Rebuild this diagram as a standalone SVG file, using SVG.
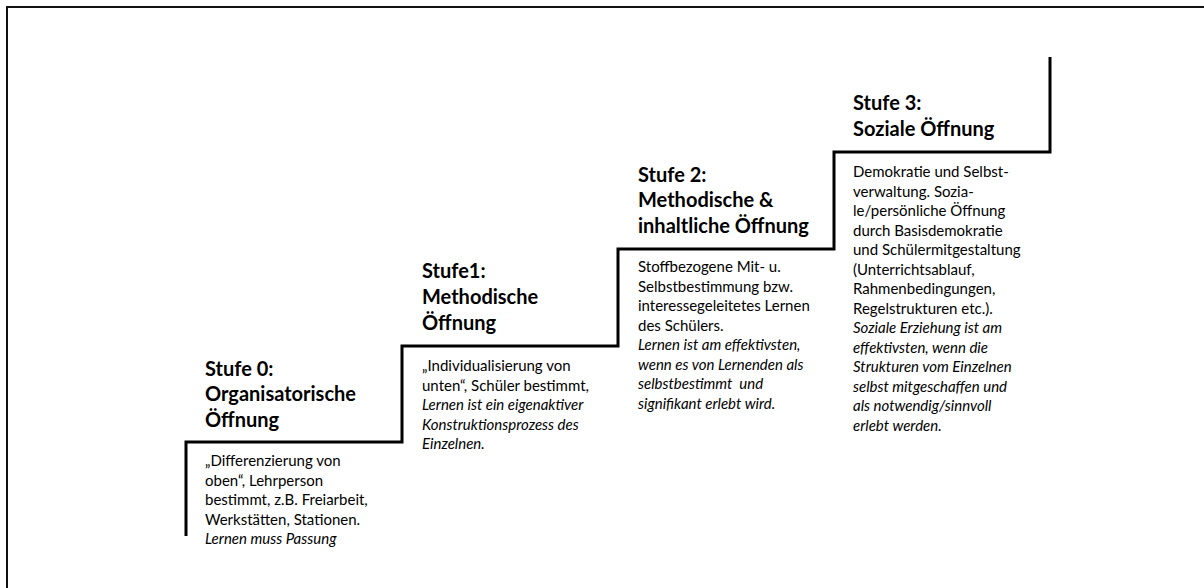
<svg xmlns="http://www.w3.org/2000/svg" width="1204" height="588" viewBox="0 0 1204 588">
  <style>
    .frame { fill: none; stroke: #111; stroke-width: 2; }
    .stairs { fill: none; stroke: #000; stroke-width: 3; stroke-linejoin: miter; stroke-linecap: butt; }
    .title { font-family: Lato, "Liberation Sans", sans-serif; font-weight: bold; font-size: 20px; fill: #000; }
    .body { font-family: Lato, "Liberation Sans", sans-serif; font-size: 15px; fill: #000; }
    .em { font-style: italic; }
  </style>
  <rect width="1204" height="588" fill="#fff"/>
  <!-- outer frame: top and left edges -->
  <path class="frame" d="M7,588 V7 H1204"/>

  <!-- staircase line linking the four levels -->
  <g id="connectors">
    <path class="stairs" d="M186,536 V442 H402 V346 H618 V249 H834 V152 H1050 V57"/>
  </g>

  <g id="stufe0">
    <text class="title"><tspan x="205" y="376">Stufe 0:</tspan><tspan x="205" y="401">Organisatorische</tspan><tspan x="205" y="427">Öffnung</tspan></text>
    <text class="body">
      <tspan x="205" y="466">„Differenzierung von</tspan>
      <tspan x="205" y="485.5">oben“, Lehrperson</tspan>
      <tspan x="205" y="505">bestimmt, z.B. Freiarbeit,</tspan>
      <tspan x="205" y="524.5">Werkstätten, Stationen.</tspan>
      <tspan x="205" y="544" class="em">Lernen muss Passung</tspan>
    </text>
  </g>

  <g id="stufe1">
    <text class="title"><tspan x="422" y="278">Stufe1:</tspan><tspan x="422" y="304">Methodische</tspan><tspan x="422" y="330">Öffnung</tspan></text>
    <text class="body">
      <tspan x="422" y="371">„Individualisierung von</tspan>
      <tspan x="422" y="390.5">unten“, Schüler bestimmt,</tspan>
      <tspan x="422" y="410" class="em">Lernen ist ein eigenaktiver</tspan>
      <tspan x="422" y="429.5" class="em">Konstruktionsprozess des</tspan>
      <tspan x="422" y="449" class="em">Einzelnen.</tspan>
    </text>
  </g>

  <g id="stufe2">
    <text class="title"><tspan x="638" y="182">Stufe 2:</tspan><tspan x="638" y="207">Methodische &amp;</tspan><tspan x="638" y="233">inhaltliche Öffnung</tspan></text>
    <text class="body">
      <tspan x="638" y="272">Stoffbezogene Mit- u.</tspan>
      <tspan x="638" y="291.5">Selbstbestimmung bzw.</tspan>
      <tspan x="638" y="311">interessegeleitetes Lernen</tspan>
      <tspan x="638" y="330.5">des Schülers.</tspan>
      <tspan x="638" y="350" class="em">Lernen ist am effektivsten,</tspan>
      <tspan x="638" y="369.5" class="em">wenn es von Lernenden als</tspan>
      <tspan x="638" y="389" class="em" xml:space="preserve">selbstbestimmt  und</tspan>
      <tspan x="638" y="408.5" class="em">signifikant erlebt wird.</tspan>
    </text>
  </g>

  <g id="stufe3">
    <text class="title"><tspan x="853" y="110">Stufe 3:</tspan><tspan x="853" y="136">Soziale Öffnung</tspan></text>
    <text class="body">
      <tspan x="853" y="177">Demokratie und Selbst-</tspan>
      <tspan x="853" y="196.5">verwaltung. Sozia-</tspan>
      <tspan x="853" y="216">le/persönliche Öffnung</tspan>
      <tspan x="853" y="235.5">durch Basisdemokratie</tspan>
      <tspan x="853" y="255">und Schülermitgestaltung</tspan>
      <tspan x="853" y="274.5">(Unterrichtsablauf,</tspan>
      <tspan x="853" y="294">Rahmenbedingungen,</tspan>
      <tspan x="853" y="313.5">Regelstrukturen etc.).</tspan>
      <tspan x="853" y="333" class="em">Soziale Erziehung ist am</tspan>
      <tspan x="853" y="352.5" class="em">effektivsten, wenn die</tspan>
      <tspan x="853" y="372" class="em">Strukturen vom Einzelnen</tspan>
      <tspan x="853" y="391.5" class="em">selbst mitgeschaffen und</tspan>
      <tspan x="853" y="411" class="em">als notwendig/sinnvoll</tspan>
      <tspan x="853" y="430.5" class="em">erlebt werden.</tspan>
    </text>
  </g>
</svg>
